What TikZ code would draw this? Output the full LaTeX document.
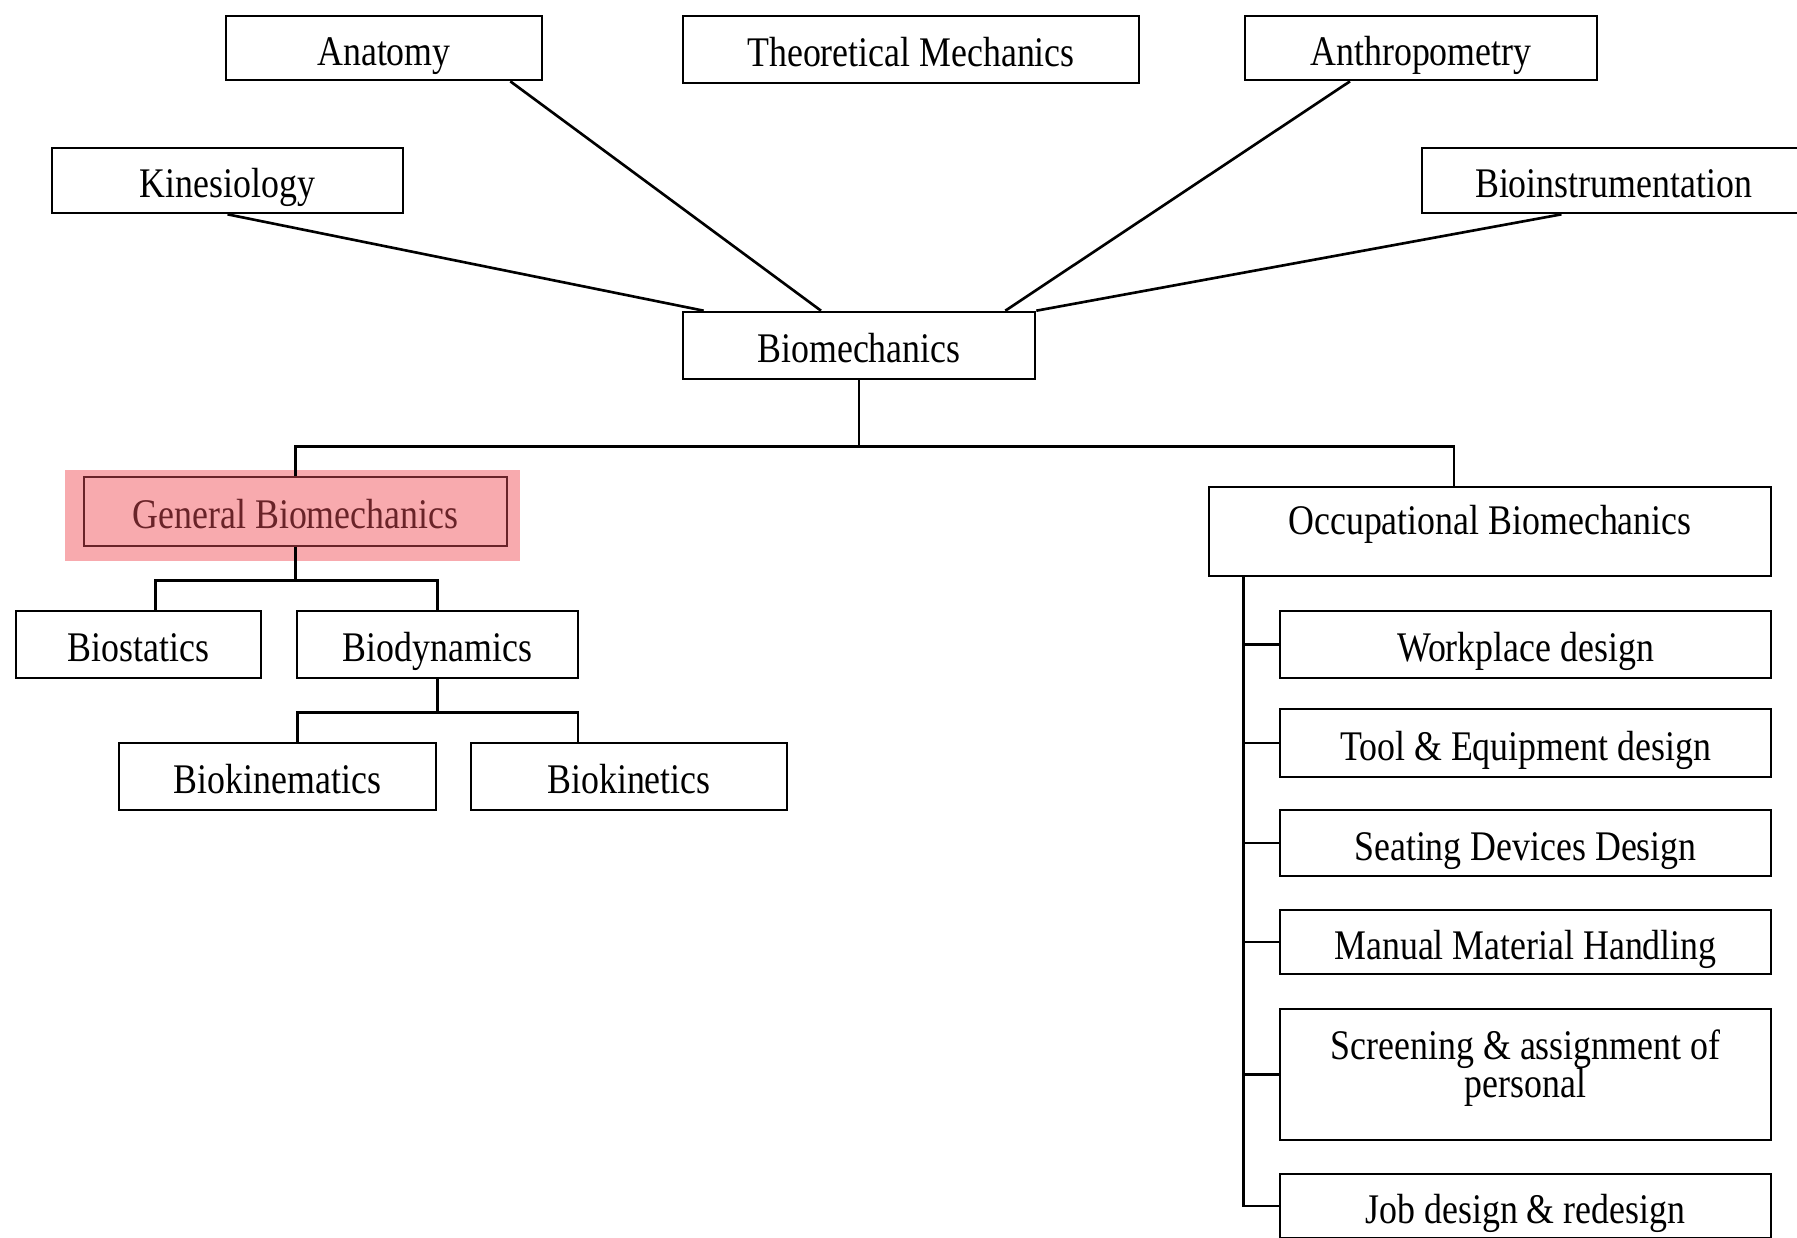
\documentclass[tikz,border=0pt]{standalone}
\usepackage{fontspec}
\setmainfont{Liberation Serif}[FakeStretch=0.85]
\usetikzlibrary{backgrounds}
\definecolor{hilite}{RGB}{248,170,174}
\definecolor{hiline}{RGB}{105,35,40}

\begin{document}
\begin{tikzpicture}[
  frame/.style={draw, line width=0.75pt, inner sep=0pt, align=center, font=\fontsize{12}{11}\selectfont},
  box/.style={frame, text height=0.42cm, text depth=0.08cm},
  link/.style={line width=0.75pt}]
\useasboundingbox (0,0) rectangle (17.97,-12.37);
\clip (0,0) rectangle (17.97,-12.37);

% top row
\node[box, minimum width=3.16cm, minimum height=0.64cm] (anat) at (3.84,-0.48) {Anatomy};
\node[box, minimum width=4.56cm, minimum height=0.67cm] (theo) at (9.11,-0.495) {Theoretical Mechanics};
\node[box, minimum width=3.52cm, minimum height=0.64cm] (anthro) at (14.21,-0.48) {Anthropometry};
\node[box, minimum width=3.51cm, minimum height=0.65cm] (kines) at (2.275,-1.805) {Kinesiology};
\node[box, minimum width=3.83cm, minimum height=0.65cm] (bioinst) at (16.135,-1.805) {Bioinstrumentation};
\node[box, minimum width=3.52cm, minimum height=0.67cm] (biomech) at (8.59,-3.455) {Biomechanics};

% general side
\node[box, draw=hiline, fill=hilite, text=hiline, minimum width=4.23cm, minimum height=0.69cm] (general) at (2.955,-5.115) {General Biomechanics};
\node[box, minimum width=2.45cm, minimum height=0.67cm] (biostat) at (1.385,-6.445) {Biostatics};
\node[box, minimum width=2.81cm, minimum height=0.67cm] (biodyn) at (4.375,-6.445) {Biodynamics};
\node[box, minimum width=3.17cm, minimum height=0.67cm] (biokinem) at (2.775,-7.765) {Biokinematics};
\node[box, minimum width=3.16cm, minimum height=0.67cm] (biokinet) at (6.29,-7.765) {Biokinetics};

% occupational side
\node[box, minimum width=5.62cm, minimum height=0.89cm, text depth=0.36cm] (occup) at (14.90,-5.315) {Occupational Biomechanics};
\node[box, minimum width=4.91cm, minimum height=0.67cm] (work) at (15.255,-6.445) {Workplace design};
\node[box, minimum width=4.91cm, minimum height=0.68cm] (tool) at (15.255,-7.43) {Tool \& Equipment design};
\node[box, minimum width=4.91cm, minimum height=0.66cm] (seat) at (15.255,-8.43) {Seating Devices Design};
\node[box, minimum width=4.91cm, minimum height=0.64cm] (manual) at (15.255,-9.42) {Manual Material Handling};
\node[frame, minimum width=4.91cm, minimum height=1.31cm, text depth=0.22cm] (screen) at (15.255,-10.745) {Screening \& assignment of\\personal};
\node[box, minimum width=4.91cm, minimum height=0.64cm] (job) at (15.255,-12.06) {Job design \& redesign};

\begin{scope}[on background layer]
  \fill[hilite] ([shift={(-0.18,0.06)}]general.north west) rectangle ([shift={(0.12,-0.14)}]general.south east);
\end{scope}

% lines into biomechanics
\draw[link] (kines.south) -- ([xshift=0.22cm]biomech.north west);
\draw[link] ([xshift=-0.33cm]anat.south east) -- ([xshift=-0.38cm]biomech.north);
\draw[link] ([xshift=-0.71cm]anthro.south) -- ([xshift=-0.31cm]biomech.north east);
\draw[link] ([xshift=-0.52cm]bioinst.south) -- (biomech.north east);

% tree
\draw[link] (biomech.south) -- ++(0,-0.66) coordinate (bus) -| (general.north);
\draw[link] (bus) -| ([xshift=-0.36cm]occup.north);
\draw[link] (general.south) -- ++(0,-0.33) coordinate (gbus) -| ([xshift=0.17cm]biostat.north);
\draw[link] (gbus) -| (biodyn.north);
\draw[link] (biodyn.south) -- ++(0,-0.33) coordinate (dbus) -| ([xshift=0.2cm]biokinem.north);
\draw[link] (dbus) -| ([xshift=-0.51cm]biokinet.north);

\coordinate (spine) at ([xshift=0.36cm]occup.south west);
\draw[link] (spine) |- (job.west);
\foreach \n in {work,tool,seat,manual,screen}
  \draw[link] (spine |- \n.west) -- (\n.west);
\end{tikzpicture}
\end{document}
